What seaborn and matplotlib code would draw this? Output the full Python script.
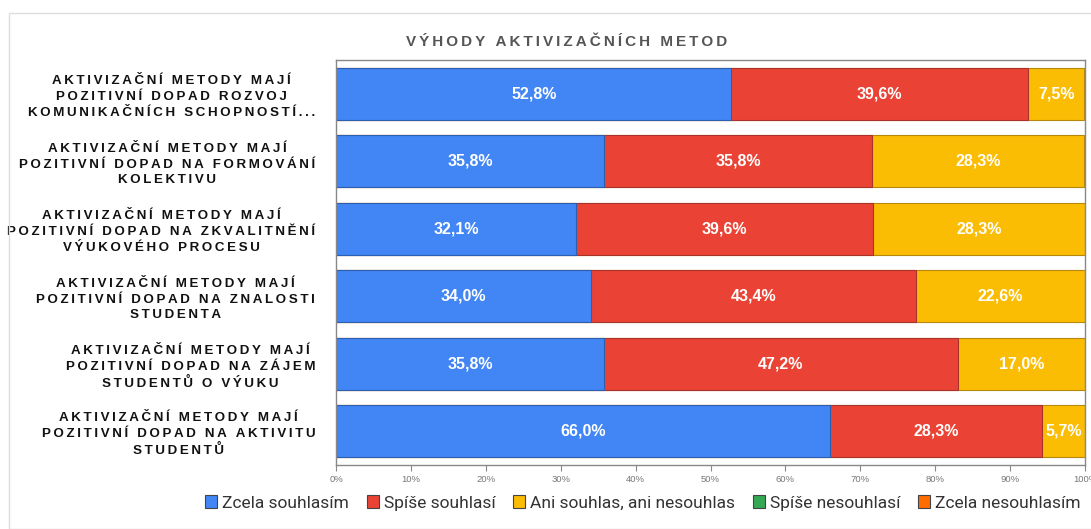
import numpy as np
import pandas as pd
import seaborn as sns
import matplotlib.pyplot as plt
from matplotlib.patches import Rectangle, Patch

categories = [
    "AKTIVIZAČNÍ METODY MAJÍ\nPOZITIVNÍ DOPAD ROZVOJ\nKOMUNIKAČNÍCH SCHOPNOSTÍ...",
    "AKTIVIZAČNÍ METODY MAJÍ\nPOZITIVNÍ DOPAD NA FORMOVÁNÍ\nKOLEKTIVU",
    "AKTIVIZAČNÍ METODY MAJÍ\nPOZITIVNÍ DOPAD NA ZKVALITNĚNÍ\nVÝUKOVÉHO PROCESU",
    "AKTIVIZAČNÍ METODY MAJÍ\nPOZITIVNÍ DOPAD NA ZNALOSTI\nSTUDENTA",
    "AKTIVIZAČNÍ METODY MAJÍ\nPOZITIVNÍ DOPAD NA ZÁJEM\nSTUDENTŮ O VÝUKU",
    "AKTIVIZAČNÍ METODY MAJÍ\nPOZITIVNÍ DOPAD NA AKTIVITU\nSTUDENTŮ",
]
series_names = ["Zcela souhlasím", "Spíše souhlasí", "Ani souhlas, ani nesouhlas",
                "Spíše nesouhlasí", "Zcela nesouhlasím"]
zcela_souhlasim = [52.8, 35.8, 32.1, 34.0, 35.8, 66.0]
spise_souhlasi = [39.6, 35.8, 39.6, 43.4, 47.2, 28.3]
ani_ani = [7.5, 28.3, 28.3, 22.6, 17.0, 5.7]
spise_nesouhlasi = [0, 0, 0, 0, 0, 0]
zcela_nesouhlasim = [0, 0, 0, 0, 0, 0]
x_ticks = [0, 10, 20, 30, 40, 50, 60, 70, 80, 90, 100]
title = "VÝHODY AKTIVIZAČNÍCH METOD"

colors = ["#4285F4", "#EA4335", "#FBBC04", "#34A853", "#FF6D01"]
edges = ["#2d5fb0", "#a8332a", "#b58a0a", "#26763b", "#b84f05"]


def spaced(s, sep="\u2009"):
    # letter spacing
    return "\n".join(sep.join(line) for line in s.split("\n"))


series = [zcela_souhlasim, spise_souhlasi, ani_ani, spise_nesouhlasi, zcela_nesouhlasim]
vals = np.array(series, dtype=float)
cum = np.cumsum(vals, axis=0)

df = pd.DataFrame({"cat": categories})
for i in range(len(series)):
    df[f"c{i}"] = cum[i]

sns.set_style("white")
plt.rcParams['font.family'] = ['Liberation Sans', 'DejaVu Sans']

fig = plt.figure(figsize=(10.91, 5.29), dpi=100)
ax = fig.add_axes([336/1091, 1-465/529, (1085-336)/1091, (465-60)/529])

for i in reversed(range(len(series))):
    if vals[i].sum() == 0:
        continue
    sns.barplot(data=df, x=f"c{i}", y="cat", orient="h", color=colors[i],
                saturation=1, width=0.77, edgecolor=edges[i], linewidth=0.8, ax=ax)

# labels
for j in range(len(categories)):
    start = 0
    for i in range(len(series)):
        v = vals[i][j]
        if v > 0:
            ax.text(start + v/2, j, f"{v:.1f}%".replace(".", ","), ha="center", va="center",
                    color="white", fontsize=11.5, fontweight="bold",
                    family=["Liberation Sans", "DejaVu Sans"])
        start += v

ax.set_xlim(0, 100)
ax.set_ylim(5.5, -0.5)
ax.set_xlabel("")
ax.set_ylabel("")
ax.set_xticks(x_ticks)
ax.set_xticklabels([f"{t}%" for t in x_ticks], fontsize=6.8, color="#777777")
ax.tick_params(axis="x", length=4, width=0.8, color="#888888", pad=3, bottom=True)
ax.set_yticks(range(len(categories)))
ax.set_yticklabels([spaced(c) for c in categories], fontsize=9.6, fontweight="bold",
                   color="#111111", linespacing=1.4)
for lbl in ax.get_yticklabels():
    lbl.set_multialignment("center")
ax.tick_params(axis="y", length=0, pad=15)
for s in ["left", "bottom", "top", "right"]:
    ax.spines[s].set_color("#888888")
    ax.spines[s].set_linewidth(1)

fig.add_artist(Rectangle((9/1091, 0), 1, 1-13/529, transform=fig.transFigure,
                         fill=False, edgecolor="#dddddd", linewidth=1))

fig.text(567/1091, 1-42/529, spaced(title), ha="center", va="center", fontsize=11,
         fontweight="bold", color="#555555")

handles = [Patch(facecolor=colors[i], edgecolor="#444444", linewidth=0.8) for i in range(5)]
fig.legend(handles, series_names, loc="center", bbox_to_anchor=(643/1091, 1-503/529),
           ncol=5, frameon=False, handlelength=0.7, handleheight=0.7,
           handletextpad=0.3, columnspacing=1.0, labelcolor="#333333",
           prop={"family": ["Roboto", "DejaVu Sans"], "size": 12.5})

fig.savefig("out.png", dpi=100)
